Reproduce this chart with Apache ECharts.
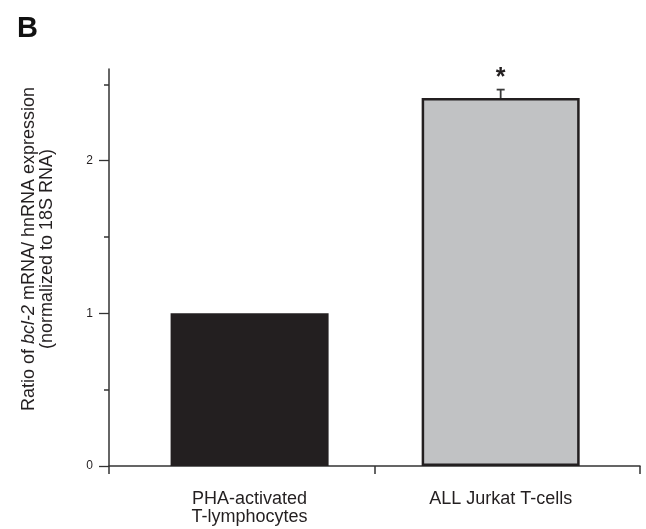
<!DOCTYPE html>
<html>
<head>
<meta charset="utf-8">
<script src="https://cdn.jsdelivr.net/npm/echarts@6/dist/echarts.min.js"></script>
<style>html,body{margin:0;padding:0;background:#fff;}#c{width:646px;height:529px;}</style>
</head>
<body>
<div id="c"></div>
<script>
// Data
const categories = ['PHA-activated\nT-lymphocytes', 'ALL Jurkat T-cells'];
const values = [1.0, 2.41];
const errors = [0, 0.055];
const marks = ['', '*'];
const barColors = ['#231f20', '#c1c2c4'];
const yTickLabels = [0, 1, 2];
const yMinorTicks = [0.5, 1.5, 2.5];

const ink = '#231f20';
const font = "'Liberation Sans', Arial, sans-serif";

const chart = echarts.init(document.getElementById('c'), null, {renderer: 'canvas'});

const barData = values.map((v, i) => ({
  value: [i, v],
  itemStyle: {color: barColors[i], borderColor: ink, borderWidth: i === 0 ? 0 : 2.5}
}));
const errData = values.map((v, i) => [i, v, errors[i]]);

chart.setOption({
  animation: false,
  backgroundColor: '#fff',
  title: {
    text: 'B', left: 12, top: 9,
    textStyle: {fontFamily: font, fontWeight: 'bold', fontSize: 29, color: '#111'}
  },
  grid: {left: 109, right: 6, top: 69, bottom: 63},
  xAxis: {
    type: 'value', min: -0.56, max: 1.555,
    splitLine: {show: false},
    axisLine: {show: true, onZero: false, lineStyle: {color: '#333', width: 1.5}},
    axisTick: {show: true, customValues: [-0.56, 0.5, 1.555], length: 8, lineStyle: {color: '#333', width: 1.5}},
    axisLabel: {
      customValues: [0, 1], margin: 24,
      formatter: v => categories[Math.round(v)] || '',
      fontFamily: font, fontSize: 18, lineHeight: 18.3, color: ink, align: 'center'
    }
  },
  yAxis: [{
    type: 'value', min: 0, max: 2.6,
    splitLine: {show: false},
    axisLine: {show: true, onZero: false, lineStyle: {color: '#333', width: 1.5}},
    axisTick: {show: true, customValues: yTickLabels, length: 10, lineStyle: {color: '#333', width: 1.3}},
    axisLabel: {customValues: yTickLabels, margin: 16, fontFamily: font, fontSize: 12, color: ink}
  }, {
    type: 'value', min: 0, max: 2.6, position: 'left',
    splitLine: {show: false},
    axisLine: {show: false, onZero: false},
    axisTick: {show: true, customValues: yMinorTicks, length: 5, lineStyle: {color: '#333', width: 1.5}},
    axisLabel: {show: false}
  }],
  graphic: [{
    type: 'text', x: 38, y: 249, rotation: Math.PI / 2,
    style: {
      text: 'Ratio of {i|bcl-2} mRNA/ hnRNA expression\n(normalized to 18S RNA)',
      font: '18px ' + font, fontSize: 18, fontFamily: font,
      fill: ink, lineHeight: 18.3,
      textAlign: 'center', textVerticalAlign: 'middle', align: 'center', verticalAlign: 'middle',
      rich: {i: {fontStyle: 'italic', fontSize: 18, fontFamily: font, lineHeight: 18.3}}
    }
  }],
  series: [{
    type: 'bar', data: barData, barWidth: 158, xAxisIndex: 0, yAxisIndex: 0
  }, {
    type: 'custom', data: errData, xAxisIndex: 0, yAxisIndex: 0, z: 5,
    renderItem: function (params, api) {
      const x = api.value(0), v = api.value(1), e = api.value(2);
      const children = [];
      const base = api.coord([x, v]);
      const top = api.coord([x, v + e]);
      if (e > 0) {
        children.push({type: 'line', shape: {x1: top[0], y1: base[1], x2: top[0], y2: top[1]}, style: {stroke: '#3a3a3a', lineWidth: 1.8}});
        children.push({type: 'line', shape: {x1: top[0] - 4, y1: top[1], x2: top[0] + 4, y2: top[1]}, style: {stroke: '#3a3a3a', lineWidth: 1.8}});
      }
      const m = marks[params.dataIndex];
      if (m) {
        children.push({type: 'text', x: top[0], y: top[1] - 12, style: {text: m, font: 'bold 25px ' + font, fill: ink, align: 'center', verticalAlign: 'middle'}});
      }
      return {type: 'group', children: children};
    }
  }]
});
</script>
</body>
</html>
